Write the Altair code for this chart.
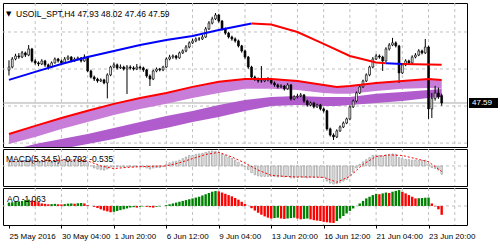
import altair as alt
import pandas as pd

FONT = "Liberation Sans"

# ---------------- data ----------------
bars = list(range(133))
opens = [49.10, 49.24, 49.61, 49.75, 49.70, 49.89, 49.79, 50.07, 49.52, 49.43,
         49.38, 49.52, 49.34, 49.24, 49.43, 49.61, 49.52, 49.43, 49.61, 49.70,
         49.52, 49.61, 49.66, 49.52, 49.70, 49.06, 48.78, 48.69, 48.60, 48.65,
         48.51, 48.88, 49.24, 49.34, 49.20, 49.24, 49.15, 49.24, 49.20, 49.15,
         49.24, 49.20, 49.11, 48.83, 48.69, 49.06, 49.15, 49.11, 49.24, 49.61,
         49.70, 49.75, 49.66, 49.89, 49.98, 50.16, 50.35, 50.44, 50.53, 50.53,
         50.62, 50.99, 51.26, 51.45, 51.63, 51.35, 50.99, 50.80, 50.62, 50.53,
         50.44, 50.21, 49.98, 49.70, 49.24, 48.78, 48.69, 48.60, 48.60, 48.65,
         48.69, 48.51, 48.42, 48.33, 48.37, 48.24, 48.42, 47.78, 47.87, 47.91,
         47.96, 47.68, 47.50, 47.59, 47.41, 47.50, 47.32, 47.23, 46.40, 46.12,
         46.03, 46.31, 46.49, 46.67, 46.86, 47.41, 47.68, 48.05, 48.33, 48.60,
         48.88, 49.24, 49.61, 49.75, 49.70, 49.52, 50.07, 50.25, 50.35, 50.21,
         48.97, 49.34, 49.52, 49.43, 49.70, 49.79, 49.98, 49.89, 50.16, 47.32,
         47.80, 48.05, 47.93]
highs = [49.55, 49.70, 49.85, 49.88, 49.98, 49.95, 50.25, 50.12, 49.60, 49.50,
         49.60, 49.57, 49.40, 49.50, 49.68, 49.66, 49.58, 49.70, 49.78, 49.74,
         49.68, 49.72, 49.70, 49.82, 49.75, 49.12, 48.85, 48.75, 48.72, 48.70,
         48.95, 49.30, 49.45, 49.40, 49.36, 49.30, 49.33, 49.32, 49.28, 49.38,
         49.30, 49.26, 49.15, 48.90, 49.12, 49.22, 49.20, 49.30, 49.68, 49.80,
         49.82, 49.80, 49.95, 50.05, 50.25, 50.42, 50.55, 50.60, 50.62, 50.72,
         51.08, 51.35, 51.55, 51.72, 51.68, 51.40, 51.05, 50.86, 50.68, 50.60,
         50.50, 50.26, 50.04, 49.75, 49.30, 48.85, 48.76, 49.29, 48.74, 48.78,
         48.74, 48.58, 48.48, 48.45, 48.42, 48.50, 48.46, 47.95, 48.00, 48.05,
         48.00, 47.74, 47.66, 47.64, 47.56, 47.55, 47.38, 47.28, 46.46, 46.20,
         46.38, 46.56, 46.74, 46.92, 47.48, 47.75, 48.12, 48.40, 48.66, 48.95,
         49.30, 49.70, 49.84, 49.82, 49.76, 50.15, 50.34, 50.58, 50.42, 50.26,
         49.42, 49.60, 49.58, 49.78, 49.88, 50.06, 50.04, 50.53, 50.22, 48.05,
         48.38, 48.30, 48.02]
lows = [48.85, 49.18, 49.55, 49.62, 49.65, 49.70, 49.74, 49.45, 49.35, 49.28,
        49.33, 49.25, 49.12, 49.20, 49.40, 49.45, 49.36, 49.40, 49.55, 49.46,
        49.48, 49.55, 49.45, 49.48, 49.00, 48.72, 48.60, 48.52, 48.55, 48.45,
        47.80, 48.82, 49.18, 49.12, 49.15, 49.08, 48.00, 49.12, 49.08, 49.10,
        49.12, 49.02, 48.75, 48.37, 48.64, 49.00, 49.04, 49.05, 49.20, 49.55,
        49.62, 49.58, 49.62, 49.84, 49.92, 50.10, 50.30, 50.38, 50.44, 50.48,
        50.58, 50.94, 51.20, 51.40, 51.28, 50.92, 50.72, 50.55, 50.45, 50.36,
        50.14, 49.90, 49.62, 49.16, 48.70, 48.60, 48.52, 48.52, 48.55, 48.58,
        48.44, 48.34, 48.26, 48.28, 48.16, 48.20, 47.70, 47.72, 47.80, 47.86,
        47.60, 47.42, 47.44, 47.34, 47.36, 47.25, 47.15, 46.32, 46.05, 45.89,
        45.98, 46.26, 46.44, 46.62, 46.80, 47.36, 47.62, 48.00, 48.28, 48.55,
        48.82, 49.18, 49.56, 49.62, 49.06, 49.48, 50.00, 50.20, 50.14, 48.51,
        48.92, 49.28, 49.36, 49.38, 49.64, 49.74, 49.82, 49.84, 46.86, 46.90,
        47.70, 47.78, 47.46]
closes = [49.24, 49.61, 49.75, 49.70, 49.89, 49.79, 50.07, 49.52, 49.43, 49.38,
          49.52, 49.34, 49.24, 49.43, 49.61, 49.52, 49.43, 49.61, 49.70, 49.52,
          49.61, 49.66, 49.52, 49.70, 49.06, 48.78, 48.69, 48.60, 48.65, 48.51,
          48.88, 49.24, 49.34, 49.20, 49.24, 49.15, 49.24, 49.20, 49.15, 49.24,
          49.20, 49.11, 48.83, 48.69, 49.06, 49.15, 49.11, 49.24, 49.61, 49.70,
          49.75, 49.66, 49.89, 49.98, 50.16, 50.35, 50.44, 50.53, 50.53, 50.62,
          50.99, 51.26, 51.45, 51.63, 51.35, 50.99, 50.80, 50.62, 50.53, 50.44,
          50.21, 49.98, 49.70, 49.24, 48.78, 48.69, 48.60, 48.60, 48.65, 48.69,
          48.51, 48.42, 48.33, 48.37, 48.24, 48.42, 47.78, 47.87, 47.91, 47.96,
          47.68, 47.50, 47.59, 47.41, 47.50, 47.32, 47.23, 46.40, 46.12, 46.03,
          46.31, 46.49, 46.67, 46.86, 47.41, 47.68, 48.05, 48.33, 48.60, 48.88,
          49.24, 49.61, 49.75, 49.70, 49.52, 50.07, 50.25, 50.35, 50.21, 48.97,
          49.34, 49.52, 49.43, 49.70, 49.79, 49.98, 49.89, 50.16, 47.32, 47.80,
          48.05, 47.87, 47.59]

# long moving average (blue = rising, red = falling), sampled bars
long_ma_bars = [0, 8, 16, 24, 32, 40, 48, 56, 64, 74,
                74, 80, 88, 96, 104, 112, 115,
                115, 120,
                120, 128, 132]
long_ma_vals = [48.65, 49.02, 49.38, 49.70, 49.98, 50.25, 50.48, 50.67, 50.94, 51.24,
                51.24, 51.19, 50.85, 50.30, 49.75, 49.45, 49.41,
                49.41, 49.38,
                49.38, 49.36, 49.34]
long_ma_seg = ["s1"] * 10 + ["s2"] * 7 + ["s3"] * 2 + ["s4"] * 3
seg_names = ["s1", "s2", "s3", "s4"]
seg_colors = ["#0000ff", "#ff0000", "#0000ff", "#ff0000"]

# lower red MA and the two purple ribbons, sampled bars
ma_bars = [0, 8, 16, 24, 32, 40, 48, 56, 64, 72, 80, 88, 96, 100, 104, 112, 120, 128, 132]
red_ma = [46.17, 46.54, 46.90, 47.23, 47.55, 47.82, 48.05, 48.33, 48.56, 48.69,
          48.69, 48.60, 48.42, 48.33, 48.37, 48.51, 48.60, 48.69, 48.65]
band1_low = [45.71, 46.03, 46.40, 46.72, 47.04, 47.32, 47.55, 47.82, 48.05, 48.24,
             48.24, 48.19, 48.05, 48.01, 48.01, 48.14, 48.24, 48.28, 48.24]
band2_top = [45.39, 45.71, 45.94, 46.17, 46.44, 46.72, 46.99, 47.22, 47.50, 47.73,
             47.87, 47.91, 47.87, 47.87, 47.87, 48.01, 48.10, 48.19, 48.23]
band2_low = [44.93, 45.30, 45.48, 45.71, 45.94, 46.21, 46.44, 46.72, 46.95, 47.22,
             47.45, 47.50, 47.45, 47.45, 47.50, 47.59, 47.68, 47.82, 47.87]

macd_main = [0.35, 0.40, 0.45, 0.50, 0.50, 0.50, 0.60, 0.50, 0.45, 0.40,
             0.50, 0.40, 0.40, 0.45, 0.55, 0.55, 0.55, 0.60, 0.60, 0.60,
             0.60, 0.60, 0.55, 0.60, 0.30, 0.00, -0.20, -0.30, -0.35, -0.40,
             -0.30, -0.10, -0.05, -0.07, -0.07, -0.10, -0.07, -0.07, -0.10, -0.07,
             -0.07, -0.10, -0.20, -0.30, -0.20, -0.15, -0.15, -0.07, 0.15, 0.30,
             0.40, 0.45, 0.55, 0.70, 0.85, 1.00, 1.00, 1.10, 1.15, 1.20,
             1.30, 1.37, 1.431, 1.40, 1.30, 1.15, 1.00, 0.85, 0.72, 0.55,
             0.35, 0.15, -0.07, -0.35, -0.65, -0.85, -0.95, -1.00, -1.00, -1.00,
             -1.00, -1.00, -1.05, -1.00, -1.05, -1.00, -1.15, -1.15, -1.10, -1.05,
             -1.10, -1.15, -1.10, -1.10, -1.05, -1.10, -1.10, -1.45, -1.65, -1.732,
             -1.70, -1.60, -1.45, -1.30, -0.95, -0.60, -0.20, 0.15, 0.40, 0.60,
             0.80, 1.00, 1.05, 1.00, 0.95, 1.05, 1.10, 1.15, 1.10, 0.80,
             0.70, 0.62, 0.60, 0.55, 0.55, 0.52, 0.52, 0.55, 0.20, -0.15,
             -0.25, -0.40, -0.792]
sig_bars = [0, 4, 8, 12, 16, 20, 24, 28, 32, 36, 40, 44, 48, 52, 56, 60, 64,
            68, 72, 76, 80, 84, 88, 92, 96, 100, 104, 108, 112, 116, 120, 124, 128, 132]
macd_signal = [0.40, 0.45, 0.48, 0.50, 0.55, 0.55, 0.48, 0.00, -0.25, -0.14, -0.07, -0.03,
               0.00, 0.30, 0.70, 1.10, 1.30, 0.85, 0.28, -0.40, -0.90, -1.00, -1.05,
               -1.05, -1.10, -1.55, -1.00, 0.15, 0.90, 1.05, 1.00, 0.70, 0.40, -0.535]

ao_values = [0.40, 0.45, 0.50, 0.55, 0.60, 0.70, 0.75, 0.65, 0.55, 0.45,
             0.30, 0.25, 0.20, 0.22, 0.25, 0.20, 0.18, 0.22, 0.28, 0.30,
             0.27, 0.32, 0.35, 0.30, 0.10, 0.00, -0.10, -0.25, -0.40, -0.55,
             -0.65, -0.75, -0.70, -0.60, -0.50, -0.40, -0.30, -0.20, -0.15, -0.20,
             -0.10, -0.05, -0.10, -0.15, -0.20, -0.10, -0.05, 0.00, 0.10, 0.20,
             0.30, 0.40, 0.50, 0.60, 0.70, 0.80, 0.90, 1.00, 1.10, 1.25,
             1.40, 1.55, 1.70, 1.78, 1.75, 1.60, 1.45, 1.30, 1.15, 0.95,
             0.75, 0.50, 0.25, 0.00, -0.27, -0.55, -0.80, -1.05, -1.25, -1.40,
             -1.50, -1.45, -1.40, -1.50, -1.55, -1.50, -1.45, -1.40, -1.50, -1.60,
             -1.55, -1.50, -1.60, -1.70, -1.75, -1.80, -1.90, -1.95, -2.00, -2.03,
             -1.80, -1.50, -1.20, -0.90, -0.60, -0.30, 0.00, 0.30, 0.60, 0.90,
             1.10, 1.30, 1.45, 1.40, 1.50, 1.60, 1.55, 1.70, 1.80, 1.898,
             1.70, 1.50, 1.30, 1.10, 0.90, 0.92, 0.95, 0.98, 1.00, 0.30,
             -0.05, -0.40, -1.063]

x_tick_bars = [0, 16, 32, 48, 64, 80, 96, 112, 128]
x_tick_labels = ["25 May 2016", "30 May 04:00", "1 Jun 20:00", "6 Jun 12:00",
                 "9 Jun 04:00", "13 Jun 20:00", "16 Jun 12:00", "21 Jun 04:00",
                 "23 Jun 20:00"]
grid_bars = [8, 16, 24, 32, 40, 48, 56, 64, 72, 80, 88, 96, 104, 112, 120, 128, 136]

price_axis_vals = [50.85, 49.15, 45.75]
price_axis_labels = ["50.85", "49.15", "45.75"]
price_grid = [50.85, 49.15, 47.45, 45.75]
last_price = [47.59]
last_price_label = ["47.59"]

macd_axis_vals = [1.431, 0.0, -1.732]
macd_axis_labels = ["1.431", "0.00", "-1.732"]
ao_axis_vals = [1.898, 0.0, -2.03]
ao_axis_labels = ["1.898", "0.00", "-2.03"]
zero_level = [0.0]

main_title = ["USOIL_SPT,H4  47.93 48.02 47.46 47.59"]
macd_title = ["MACD(5,34,5) -0.792 -0.535"]
ao_title = ["AO -1.063"]


def label_expr(vals, labels):
    return " : ".join(f"datum.value == {v} ? '{l}'" for v, l in zip(vals, labels)) + " : ''"


# ---------------- tables ----------------
cdf = pd.DataFrame({"i": bars, "o": opens, "h": highs, "l": lows, "c": closes})
cdf["dir"] = ["up" if c >= o else "down" for o, c in zip(opens, closes)]
long_df = pd.DataFrame({"i": long_ma_bars, "v": long_ma_vals, "seg": long_ma_seg})
long_df["col"] = long_df["seg"].map(dict(zip(seg_names, seg_colors)))
band_df = pd.DataFrame({"i": ma_bars, "r": red_ma, "b1": band1_low, "t2": band2_top, "b2": band2_low})
macd_df = pd.DataFrame({"i": bars, "m": macd_main})
sig_df = pd.DataFrame({"i": sig_bars, "s": macd_signal})
ao_df = pd.DataFrame({"i": bars, "a": ao_values})
ao_df["dir"] = ["up" if k == 0 or v > ao_values[k - 1] else "down" for k, v in enumerate(ao_values)]

W = 464
xs = alt.Scale(domain=[-0.3, 138.2], nice=False, zero=False)
ys_main = alt.Scale(domain=[45.57, 52.18], nice=False, zero=False)
ys_macd = alt.Scale(domain=[-1.92, 1.62], nice=False, zero=False)
ys_ao = alt.Scale(domain=[-2.275, 2.143], nice=False, zero=False)

GRID = "#c0c0c0"

x_axis = alt.Axis(values=x_tick_bars, labelExpr=label_expr(x_tick_bars, x_tick_labels), title=None,
                  grid=False, domain=False, ticks=True, tickSize=3, tickColor="black",
                  labelAlign="left", labelBaseline="top", labelPadding=4, labelFont=FONT,
                  labelFontSize=8, labelColor="black", labelOverlap=False, labelFlush=False)


def vgrid(axis=None):
    return alt.Chart(pd.DataFrame({"g": grid_bars})).mark_rule(
        color=GRID, strokeDash=[3, 3], strokeWidth=1
    ).encode(x=alt.X("g:Q", scale=xs, axis=axis))


def yaxis(vals, labels, flush=None):
    kw = dict(orient="right", values=vals, labelExpr=label_expr(vals, labels), title=None,
              grid=False, domain=False, ticks=True, tickSize=3, tickColor="black",
              labelPadding=2, labelOverlap=False, labelFont=FONT, labelFontSize=8,
              labelColor="black")
    if flush is not None:
        kw["labelFlush"] = flush
    return alt.Axis(**kw)


# ---------------- main panel ----------------
hgrid = alt.Chart(pd.DataFrame({"g": price_grid})).mark_rule(
    color=GRID, strokeDash=[3, 3], strokeWidth=1
).encode(y=alt.Y("g:Q", scale=ys_main, axis=yaxis(price_axis_vals, price_axis_labels)))

last_df = pd.DataFrame({"p": last_price, "t": last_price_label})
bid_line = alt.Chart(last_df).mark_rule(color="#a8a8a8", strokeWidth=1).encode(
    y=alt.Y("p:Q", scale=ys_main, axis=None))

area2 = alt.Chart(band_df).mark_area(color="#b05ccc", clip=True).encode(
    x=alt.X("i:Q", scale=xs, axis=None), y=alt.Y("t2:Q", scale=ys_main, axis=None), y2="b2:Q")
area1 = alt.Chart(band_df).mark_area(color="#c87ed9", clip=True).encode(
    x=alt.X("i:Q", scale=xs, axis=None), y=alt.Y("r:Q", scale=ys_main, axis=None), y2="b1:Q")

wick = alt.Chart(cdf).mark_rule(color="black", strokeWidth=1, clip=True).encode(
    x=alt.X("i:Q", scale=xs, axis=None),
    y=alt.Y("l:Q", scale=ys_main, axis=None),
    y2="h:Q")
body = alt.Chart(cdf).mark_bar(size=1.8, stroke="black", strokeWidth=0.7, clip=True).encode(
    x=alt.X("i:Q", scale=xs, axis=None),
    y=alt.Y("o:Q", scale=ys_main, axis=None), y2="c:Q",
    fill=alt.Fill("dir:N", scale=alt.Scale(domain=["up", "down"], range=["white", "black"]), legend=None))

red_line = alt.Chart(band_df).mark_line(color="#ff0000", strokeWidth=2, clip=True).encode(
    x=alt.X("i:Q", scale=xs, axis=None), y=alt.Y("r:Q", scale=ys_main, axis=None))
long_line = alt.Chart(long_df).mark_line(strokeWidth=2, clip=True).encode(
    x=alt.X("i:Q", scale=xs, axis=None), y=alt.Y("v:Q", scale=ys_main, axis=None),
    detail="seg:N", color=alt.Color("col:N", scale=None))

tri = alt.Chart(pd.DataFrame({"t": ["\u25BC"]})).mark_text(
    font="DejaVu Sans", fontSize=7, align="left", baseline="middle", color="black").encode(
    x=alt.value(3), y=alt.value(11), text="t:N")
title_txt = alt.Chart(pd.DataFrame({"t": main_title})).mark_text(
    font=FONT, fontSize=8.5, align="left", baseline="middle", color="black").encode(
    x=alt.value(13), y=alt.value(11), text="t:N")

price_box = alt.Chart(last_df).mark_rect(color="black", yOffset=-5, y2Offset=5).encode(
    x=alt.value(W + 2), x2=alt.value(W + 31),
    y=alt.Y("p:Q", scale=ys_main, axis=None), y2="p:Q")
price_txt = alt.Chart(last_df).mark_text(
    font=FONT, fontSize=8, align="left", baseline="middle", color="white").encode(
    x=alt.value(W + 5), y=alt.Y("p:Q", scale=ys_main, axis=None), text="t:N")

main = alt.layer(vgrid(), hgrid, bid_line, area2, area1, wick, body, red_line, long_line,
                 tri, title_txt, price_box, price_txt).properties(width=W, height=144)

# ---------------- MACD panel ----------------
zero_df = pd.DataFrame({"z": zero_level})
macd_zero = alt.Chart(zero_df).mark_rule(color=GRID, strokeDash=[3, 3], strokeWidth=1).encode(
    y=alt.Y("z:Q", scale=ys_macd, axis=yaxis(macd_axis_vals, macd_axis_labels, 5)))
macd_hist = alt.Chart(macd_df).mark_bar(size=1.4, fill="white", stroke="#a0a0a0", strokeWidth=0.8).encode(
    x=alt.X("i:Q", scale=xs, axis=None),
    y=alt.Y("m:Q", scale=ys_macd, axis=None),
    y2=alt.datum(0))
macd_sig = alt.Chart(sig_df).mark_line(color="#ff0000", strokeDash=[2, 2], strokeWidth=1).encode(
    x=alt.X("i:Q", scale=xs, axis=None), y=alt.Y("s:Q", scale=ys_macd, axis=None))
macd_txt = alt.Chart(pd.DataFrame({"t": macd_title})).mark_text(
    font=FONT, fontSize=8.5, align="left", baseline="middle", color="black").encode(
    x=alt.value(3), y=alt.value(10), text="t:N")
macd = alt.layer(vgrid(), macd_zero, macd_hist, macd_sig, macd_txt).properties(width=W, height=37)

# ---------------- AO panel ----------------
ao_zero = alt.Chart(zero_df).mark_rule(color=GRID, strokeDash=[3, 3], strokeWidth=1).encode(
    y=alt.Y("z:Q", scale=ys_ao, axis=yaxis(ao_axis_vals, ao_axis_labels, 5)))
ao_bars = alt.Chart(ao_df).mark_bar(size=2.4).encode(
    x=alt.X("i:Q", scale=xs, axis=x_axis),
    y=alt.Y("a:Q", scale=ys_ao, axis=None),
    y2=alt.datum(0),
    color=alt.Color("dir:N", scale=alt.Scale(domain=["up", "down"], range=["#008000", "#ff0000"]), legend=None))
ao_txt = alt.Chart(pd.DataFrame({"t": ao_title})).mark_text(
    font=FONT, fontSize=8.5, align="left", baseline="middle", color="black").encode(
    x=alt.value(4), y=alt.value(11), text="t:N")
ao = alt.layer(vgrid(x_axis), ao_zero, ao_bars, ao_txt).properties(width=W, height=37)

chart = alt.vconcat(main, macd, ao, spacing=2, bounds="flush").properties(
    padding={"left": 2, "top": 2, "right": 0, "bottom": 0}, background="white"
).configure_view(stroke="black", strokeWidth=1)

chart.save("out.html", embed_options={"renderer": "svg", "actions": False})
